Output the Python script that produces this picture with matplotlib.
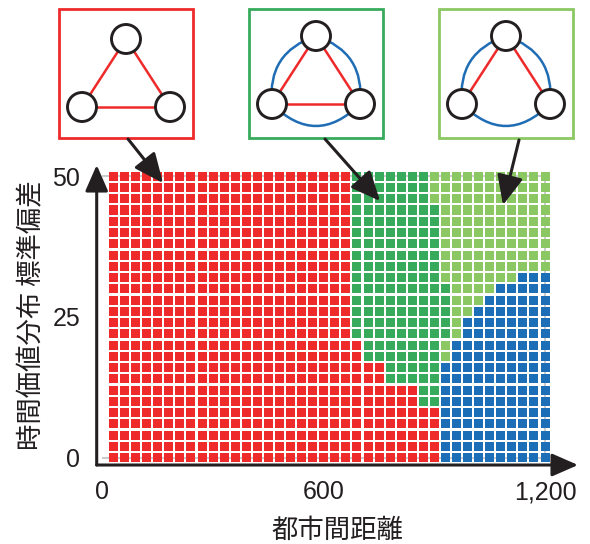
import numpy as np
import matplotlib.pyplot as plt
from matplotlib.patches import Rectangle, Circle, FancyArrowPatch

# grid of (city distance, std of time value) -> best network type
dist = np.arange(30, 1201, 30)      # 40 columns
sd = np.arange(0, 51, 2)            # 26 rows

# upper distance of each region, one value per sd row (sd = 0, 2, ..., 50)
red_edge = [900, 900, 900, 900, 900, 840, 840, 750, 750, 690, 690, 660, 660,
            660, 660, 660, 660, 660, 660, 660, 660, 660, 660, 660, 660, 660]
dgreen_edge = [900, 900, 900, 900, 900, 900, 900, 900, 900, 900, 900, 930, 930,
               930, 930, 930, 900, 900, 900, 900, 900, 900, 900, 870, 870, 870]
lgreen_edge = [900, 900, 900, 900, 900, 900, 900, 900, 900, 930, 930, 960, 960,
               990, 1020, 1050, 1110, 1200, 1200, 1200, 1200, 1200, 1200, 1200, 1200, 1200]

colors = ['#ee2a2a', '#37ab5b', '#8bc762', '#1c6fb7']
x_ticks = [0, 600, 1200]
x_ticklabels = ['0', '600', '1,200']
y_ticks = [0, 25, 50]
ink = '#231f20'
blue_line = '#1f6db5'

X, Y = np.meshgrid(dist, sd)
R = np.array(red_edge)[:, None]
G = np.array(dgreen_edge)[:, None]
L = np.array(lgreen_edge)[:, None]
cat = np.select([X <= R, X <= G, X <= L], [0, 1, 2], default=3)

plt.rcParams['font.family'] = ['Liberation Sans', 'DejaVu Sans']

fig = plt.figure(figsize=(5.9, 5.44), dpi=100)
ax = fig.add_axes([0.1639, 0.1452, 0.8158, 0.5515])
ax.set_xlim(-15.7, 1289.5)
ax.set_ylim(-1.33, 52.0)

# light frame lines behind the cells
ax.hlines([0, 50], 0, 1200, color='#cccccc', lw=1.5, zorder=1)
ax.vlines([1200], 0, 50, color='#cccccc', lw=1.5, zorder=1)

for k in range(4):
    m = cat == k
    ax.bar(X[m], 1.6, width=24.4, bottom=Y[m] - 0.8, color=colors[k],
           linewidth=0, zorder=2)

for s in ax.spines.values():
    s.set_visible(False)
ax.set_xticks(x_ticks, x_ticklabels)
ax.set_yticks(y_ticks)
ax.tick_params(length=0, labelsize=18, colors=ink)
ax.tick_params(axis='x', pad=11)
ax.tick_params(axis='y', pad=12)

ax.set_xlabel('都市間距離', fontsize=19, family='Noto Sans CJK JP', labelpad=9, color=ink)
ax.set_ylabel('時間価値分布 標準偏差', fontsize=19, family='Noto Sans CJK JP', labelpad=5, color=ink)

# axis arrows
arrow_kw = dict(arrowstyle='-|>,head_length=0.8,head_width=0.35', mutation_scale=20,
                lw=2.2, color=ink, shrinkA=0, shrinkB=0)
ax.annotate('', xy=(0, 1), xytext=(0, 0), xycoords='axes fraction', arrowprops=arrow_kw,
            annotation_clip=False)
ax.annotate('', xy=(1, 0), xytext=(0, 0), xycoords='axes fraction', arrowprops=arrow_kw,
            annotation_clip=False)

# network sketches above the chart, in figure pixels
ov = fig.add_axes([0, 0, 1, 1], zorder=5)
ov.set_xlim(0, 590)
ov.set_ylim(544, 0)
ov.axis('off')

boxes = [(59, colors[0], 30, [(0, 1), (0, 2), (1, 2)], False),
         (249, colors[1], 27, [(0, 1), (0, 2), (1, 2)], True),
         (439, colors[2], 27, [(0, 1), (0, 2)], True)]
for bx, col, top, links, ring in boxes:
    ov.add_patch(Rectangle((bx, 9), 134, 129, fill=False, ec=col, lw=2))
    nodes = [(bx + 67, 9 + top), (bx + 23, 9 + top + 68), (bx + 111, 9 + top + 68)]
    if ring:
        for a, b, rad in [(0, 1, 0.4), (1, 2, 0.5), (2, 0, 0.4)]:
            ov.add_patch(FancyArrowPatch(nodes[a], nodes[b], arrowstyle='-',
                                         connectionstyle=f'arc3,rad={rad}',
                                         color=blue_line, lw=1.8, shrinkA=0, shrinkB=0))
    for a, b in links:
        ov.plot([nodes[a][0], nodes[b][0]], [nodes[a][1], nodes[b][1]],
                color=colors[0], lw=1.8)
    for p in nodes:
        ov.add_patch(Circle(p, 14.5, fc='white', ec=ink, lw=2.1, zorder=3))

# pointers from sketches to regions
ptr_kw = dict(arrowstyle='-|>,head_length=0.9,head_width=0.4', mutation_scale=20,
              lw=2.2, color=ink, shrinkA=0, shrinkB=0)
for start, tip in [((128, 139), (163, 183)), ((325, 139), (380, 201)),
                   ((519, 140), (503, 205))]:
    ov.annotate('', xy=tip, xytext=start, arrowprops=ptr_kw)

fig.savefig('out.png', dpi=100)
